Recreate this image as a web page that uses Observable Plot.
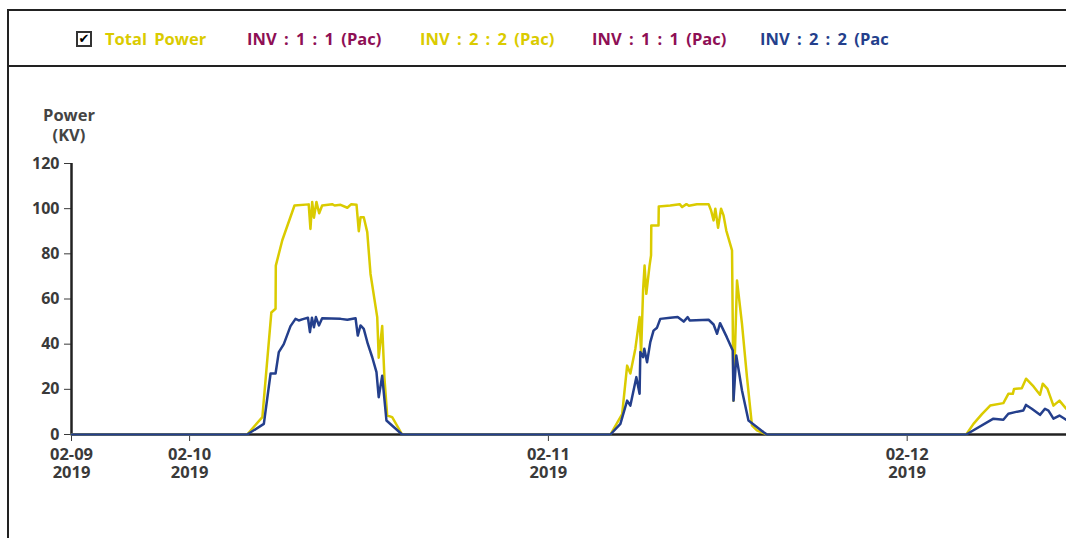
<!DOCTYPE html>
<html><head><meta charset="utf-8">
<script src="https://cdn.jsdelivr.net/npm/d3@7"></script>
<script src="https://cdn.jsdelivr.net/npm/@observablehq/plot@0.6"></script>
<style>
body{margin:0;width:1066px;height:538px;overflow:hidden;background:#fff;font-family:"Open Sans",sans-serif;font-weight:700;position:relative}
#frameTop{position:absolute;left:7px;top:9px;width:1200px;height:0;border-top:2.5px solid #222}
#frameLeft{position:absolute;left:7px;top:9px;width:0;height:700px;border-left:2.5px solid #222}
#legendLine{position:absolute;left:7px;top:65px;width:1200px;height:0;border-top:2.5px solid #222}
.item{position:absolute;top:28px;font-size:16.5px;line-height:22px;white-space:nowrap;word-spacing:3px}
#check{position:absolute;left:76px;top:31px;width:12px;height:12px;border:2px solid #333;font-family:"DejaVu Sans";font-weight:700;font-size:13px;line-height:12px;text-align:center;color:#000}
#ylab{position:absolute;left:34px;top:105px;width:70px;text-align:center;font-size:16.5px;line-height:20px;color:#444}
#chart{position:absolute;left:0;top:70px}
</style>
</head><body>
<div id="frameTop"></div><div id="frameLeft"></div><div id="legendLine"></div>
<div id="check">✔</div>
<div id="legend"></div>
<div id="ylab">Power<br>(KV)</div>
<div id="chart"></div>
<script>
const seriesNames = ["Total Power", "INV : 1 : 1 (Pac)", "INV : 2 : 2 (Pac)", "INV : 1 : 1 (Pac)", "INV : 2 : 2 (Pac"];
const seriesColors = ["#dacb00", "#8e0f55", "#dacb00", "#8e0f55", "#243f8c"];
const legendLefts = [105, 247, 420, 592, 760];

const totalTimes = ["2019-02-09T16:06",
 "2019-02-10T03:51","2019-02-10T04:52","2019-02-10T05:28","2019-02-10T05:45","2019-02-10T05:46","2019-02-10T06:12","2019-02-10T07:01","2019-02-10T07:58","2019-02-10T08:05","2019-02-10T08:12","2019-02-10T08:19","2019-02-10T08:29","2019-02-10T08:40","2019-02-10T08:52","2019-02-10T09:32","2019-02-10T09:42","2019-02-10T10:06","2019-02-10T10:33","2019-02-10T10:49","2019-02-10T11:10","2019-02-10T11:19","2019-02-10T11:26","2019-02-10T11:39","2019-02-10T11:53","2019-02-10T12:06","2019-02-10T12:33","2019-02-10T12:39","2019-02-10T12:53","2019-02-10T13:02","2019-02-10T13:13","2019-02-10T13:33","2019-02-10T14:13",
 "2019-02-11T04:09","2019-02-11T04:56","2019-02-11T05:16","2019-02-11T05:29","2019-02-11T05:49","2019-02-11T06:06","2019-02-11T06:12","2019-02-11T06:20","2019-02-11T06:26","2019-02-11T06:33","2019-02-11T06:46","2019-02-11T06:52","2019-02-11T06:53","2019-02-11T07:22","2019-02-11T07:23","2019-02-11T08:09","2019-02-11T08:47","2019-02-11T08:57","2019-02-11T09:14","2019-02-11T09:24","2019-02-11T09:56","2019-02-11T10:43","2019-02-11T10:53","2019-02-11T11:03","2019-02-11T11:10","2019-02-11T11:21","2019-02-11T11:33","2019-02-11T11:43","2019-02-11T11:54","2019-02-11T12:17","2019-02-11T12:23","2019-02-11T12:37","2019-02-11T12:57","2019-02-11T13:17","2019-02-11T13:37","2019-02-11T13:57","2019-02-11T14:37",
 "2019-02-12T03:57","2019-02-12T04:26","2019-02-12T05:00","2019-02-12T05:33","2019-02-12T06:26","2019-02-12T06:46","2019-02-12T07:04","2019-02-12T07:09","2019-02-12T07:40","2019-02-12T07:57","2019-02-12T08:27","2019-02-12T08:53","2019-02-12T09:04","2019-02-12T09:23","2019-02-12T09:47","2019-02-12T10:11","2019-02-12T10:38"];
const totalValues = [0,
 0,7.7,54,55.7,74.8,86,101.4,101.9,91,103,96,103,98,101.4,102,101.4,101.7,100.4,102,101.7,90,96.2,96.2,89.6,71.2,52,34,48,25,8.4,7.7,0,
 0,9,30.5,27,38,52,35.7,63.8,74.8,62.3,74.8,79.3,92.6,92.6,101,101.4,102,100.7,102,101.3,102,102,99.2,94.8,100,91.5,100,97,90.3,81.5,15,68.2,49,25.4,4,1.8,0,
 0,4.7,9,12.8,13.9,18,18,20.2,20.5,24.7,21.3,17.6,22.5,20.2,12.8,15,11.4];

const inv22Times = ["2019-02-09T16:06",
 "2019-02-10T03:51","2019-02-10T04:58","2019-02-10T05:25","2019-02-10T05:45","2019-02-10T05:58","2019-02-10T06:18","2019-02-10T06:45","2019-02-10T07:05","2019-02-10T07:18","2019-02-10T07:38","2019-02-10T07:55","2019-02-10T08:03","2019-02-10T08:11","2019-02-10T08:19","2019-02-10T08:27","2019-02-10T08:39","2019-02-10T08:52","2019-02-10T10:06","2019-02-10T10:33","2019-02-10T11:06","2019-02-10T11:15","2019-02-10T11:26","2019-02-10T11:39","2019-02-10T11:55","2019-02-10T12:13","2019-02-10T12:30","2019-02-10T12:39","2019-02-10T12:53","2019-02-10T13:10","2019-02-10T14:13",
 "2019-02-11T04:09","2019-02-11T04:49","2019-02-11T05:16","2019-02-11T05:29","2019-02-11T05:53","2019-02-11T06:06","2019-02-11T06:09","2019-02-11T06:20","2019-02-11T06:25","2019-02-11T06:36","2019-02-11T06:49","2019-02-11T07:02","2019-02-11T07:16","2019-02-11T07:29","2019-02-11T08:09","2019-02-11T08:39","2019-02-11T09:03","2019-02-11T09:19","2019-02-11T09:27","2019-02-11T10:43","2019-02-11T11:03","2019-02-11T11:17","2019-02-11T11:29","2019-02-11T11:56","2019-02-11T12:20","2019-02-11T12:23","2019-02-11T12:34","2019-02-11T12:57","2019-02-11T13:23","2019-02-11T14:24","2019-02-11T14:37",
 "2019-02-12T03:57","2019-02-12T05:46","2019-02-12T06:26","2019-02-12T06:46","2019-02-12T07:13","2019-02-12T07:46","2019-02-12T07:57","2019-02-12T08:20","2019-02-12T08:53","2019-02-12T09:13","2019-02-12T09:27","2019-02-12T09:47","2019-02-12T10:11","2019-02-12T10:38"];
const inv22Values = [0,
 0,4.7,27,27,36.5,40,48,51.2,50.5,51.2,51.7,45.3,51.7,47.5,52,48.3,51.5,51.2,50.8,51.5,43.8,48.3,46.8,40.2,34.2,27.6,16.5,26,6.2,0,
 0,4.7,15,12.8,25.4,18,36.5,34.2,38,32,40.9,46,47.3,51.2,51.7,52,50,52,50.5,50.8,48.7,44.6,49.3,43.1,37.2,15,35,19.5,6.2,1,0,
 0,7,6.5,9.2,9.9,10.6,13.1,11.4,8.7,11.4,10.6,7,8.4,6.5];

const xTickLabels = ["2019-02-09T16:06", "2019-02-10T00:00", "2019-02-11T00:00", "2019-02-12T00:00"];
const yTicks = [0, 20, 40, 60, 80, 100, 120];
const xDomainStrings = ["2019-02-09T16:06", "2019-02-12T13:36"];

const parse = d3.utcParse("%Y-%m-%dT%H:%M");
const total = totalTimes.map((t, i) => ({t: parse(t), v: totalValues[i]}));
const inv22 = inv22Times.map((t, i) => ({t: parse(t), v: inv22Values[i]}));
const xTicks = xTickLabels.map(parse);
const xDomain = xDomainStrings.map(parse);

const leg = document.getElementById("legend");
seriesNames.forEach((n, i) => {
  const s = document.createElement("div");
  s.className = "item";
  s.style.left = legendLefts[i] + "px";
  s.style.color = seriesColors[i];
  s.textContent = n;
  leg.appendChild(s);
});

const chart = Plot.plot({
  width: 1110,
  height: 430,
  marginTop: 93,
  marginLeft: 71,
  marginRight: 0,
  marginBottom: 66,
  style: {maxWidth: "none", background: "transparent", overflow: "visible", fontFamily: "Open Sans", fontWeight: 700, color: "#3a3a3a"},
  x: {type: "utc", domain: xDomain},
  y: {domain: [0, 120]},
  marks: [
    Plot.axisY({ticks: yTicks, tickSize: 7, tickPadding: 5, fontSize: 16, label: null, tickFormat: d => d, color: "#3a3a3a"}),
    Plot.axisX({ticks: xTicks, tickSize: 7, tickPadding: 5, fontSize: 16.5, lineHeight: 1.12, label: null, tickFormat: d3.utcFormat("%m-%d\n%Y"), color: "#3a3a3a"}),
    Plot.ruleY([0], {stroke: "#222", strokeWidth: 2.5}),
    Plot.ruleX([xDomain[0]], {y1: 0, y2: 120, stroke: "#222", strokeWidth: 2.5}),
    Plot.line(total, {x: "t", y: "v", stroke: seriesColors[0], strokeWidth: 2.5}),
    Plot.line(inv22, {x: "t", y: "v", stroke: seriesColors[4], strokeWidth: 2.5})
  ]
});
document.getElementById("chart").appendChild(chart);
</script>
</body></html>
